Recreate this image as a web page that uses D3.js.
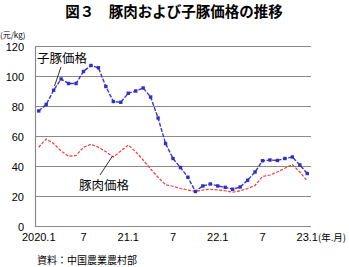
<!DOCTYPE html>
<meta charset="utf-8">
<head>
<style>
  body { margin: 0; background: #fff; }
  svg text { font-family: 'Liberation Sans', 'Noto Sans CJK JP', sans-serif; fill: #000; }
  .jp { font-family: 'Noto Sans CJK JP', sans-serif; }
</style>
</head>
<body>
<div id="chart"></div>
<script src="https://cdn.jsdelivr.net/npm/d3@7"></script>
<script>

// months 2020.1 - 2023.1
var months = [];
for (var yr = 2020; yr <= 2023; yr++) {
  for (var m = 1; m <= 12; m++) {
    if (yr == 2023 && m > 1) break;
    months.push(yr + "." + m);
  }
}

// 子豚価格 (元/kg)
var pigletPrice = [76.7, 81, 90.5, 98, 95, 95, 103, 107, 105.5, 93, 83, 82.5,
  88.5, 90, 92, 86, 72, 55, 45, 39, 32.5, 23, 26.7, 28,
  26.7, 25.8, 24.5, 26, 30.5, 36, 43.5, 44, 43.7, 45, 46, 40.7, 35];

// 豚肉価格 (元/kg)
var porkPrice = [52.5, 58, 55, 50, 46.5, 47, 52.5, 54.5, 52.5, 49.5, 46, 50,
  54, 49.5, 44, 38, 32.5, 27.5, 26.5, 25, 24, 23, 24, 24.5,
  24, 23.5, 22.5, 23.5, 25, 27, 33, 34, 36, 38.5, 41, 36, 30];

var tickMonths = ["2020.1", "2020.7", "2021.1", "2021.7", "2022.1", "2022.7", "2023.1"];
var tickLabels = ["2020.1", "7", "21.1", "7", "22.1", "7", "23.1"];
var yTicks = [0, 20, 40, 60, 80, 100, 120];

var W = 349, H = 267;
var svg = d3.select("#chart").append("svg")
  .attr("width", W).attr("height", H);

var x = d3.scalePoint().domain(months).range([35, 311]).padding(0.5);
var y = d3.scaleLinear().domain([0, 120]).range([226, 46]);

// title
svg.append("text").attr("class", "jp")
  .attr("x", 174).attr("y", 17)
  .attr("text-anchor", "middle")
  .style("font-size", "14.5px").style("font-weight", "bold")
  .text("図３　豚肉および子豚価格の推移");

// grid
svg.selectAll(".grid").data(yTicks).enter().append("line")
  .attr("x1", 35).attr("x2", 311)
  .attr("y1", function(d) { return y(d) + 0.5; })
  .attr("y2", function(d) { return y(d) + 0.5; })
  .attr("stroke", "#8a8a8a").attr("stroke-width", 1.2);

svg.append("line")
  .attr("x1", 35.5).attr("x2", 35.5)
  .attr("y1", y(120)).attr("y2", y(0) + 1)
  .attr("stroke", "#8a8a8a").attr("stroke-width", 1.2);

// y labels
svg.selectAll(".ylab").data(yTicks).enter().append("text")
  .attr("x", 24).attr("y", function(d) { return y(d) + 4.5; })
  .attr("text-anchor", "end")
  .style("font-size", "11px")
  .text(function(d) { return d; });

svg.append("text").attr("class", "jp")
  .attr("x", 0).attr("y", 38)
  .style("font-size", "8px")
  .text("(元/kg)");

// x labels
svg.selectAll(".xlab").data(tickMonths).enter().append("text")
  .attr("x", function(d) { return x(d); })
  .attr("y", 241)
  .attr("text-anchor", "middle")
  .style("font-size", "11px")
  .text(function(d, i) { return tickLabels[i]; });

svg.append("text").attr("class", "jp")
  .attr("x", 318).attr("y", 241)
  .style("font-size", "9.5px")
  .text("(年.月)");

// lines
var line = d3.line()
  .x(function(d, i) { return x(months[i]); })
  .y(function(d) { return y(d); });

svg.append("path").datum(porkPrice)
  .attr("d", line)
  .attr("fill", "none")
  .attr("stroke", "#ee3a36")
  .attr("stroke-width", 1.2)
  .attr("stroke-dasharray", "3,1.5");

svg.append("path").datum(pigletPrice)
  .attr("d", line)
  .attr("fill", "none")
  .attr("stroke", "#3636c8")
  .attr("stroke-width", 1.4)
  .attr("stroke-dasharray", "4,1.5");

svg.selectAll(".mk").data(pigletPrice).enter().append("rect")
  .attr("x", function(d, i) { return x(months[i]) - 1.7; })
  .attr("y", function(d) { return y(d) - 1.7; })
  .attr("width", 3.4).attr("height", 3.4)
  .attr("fill", "#3030c0");

// annotations
svg.append("text").attr("class", "jp")
  .attr("x", 37).attr("y", 63)
  .style("font-size", "12.5px")
  .text("子豚価格");
svg.append("line")
  .attr("x1", 61).attr("y1", 67).attr("x2", 54.5).attr("y2", 86)
  .attr("stroke", "#000").attr("stroke-width", 0.8);

svg.append("text").attr("class", "jp")
  .attr("x", 79).attr("y", 190)
  .style("font-size", "12.5px")
  .text("豚肉価格");
svg.append("line")
  .attr("x1", 100).attr("y1", 175).attr("x2", 112.5).attr("y2", 156)
  .attr("stroke", "#000").attr("stroke-width", 0.8);

// source
svg.append("text").attr("class", "jp")
  .attr("x", 37).attr("y", 264)
  .style("font-size", "10px")
  .text("資料：中国農業農村部");

</script>
</body>
